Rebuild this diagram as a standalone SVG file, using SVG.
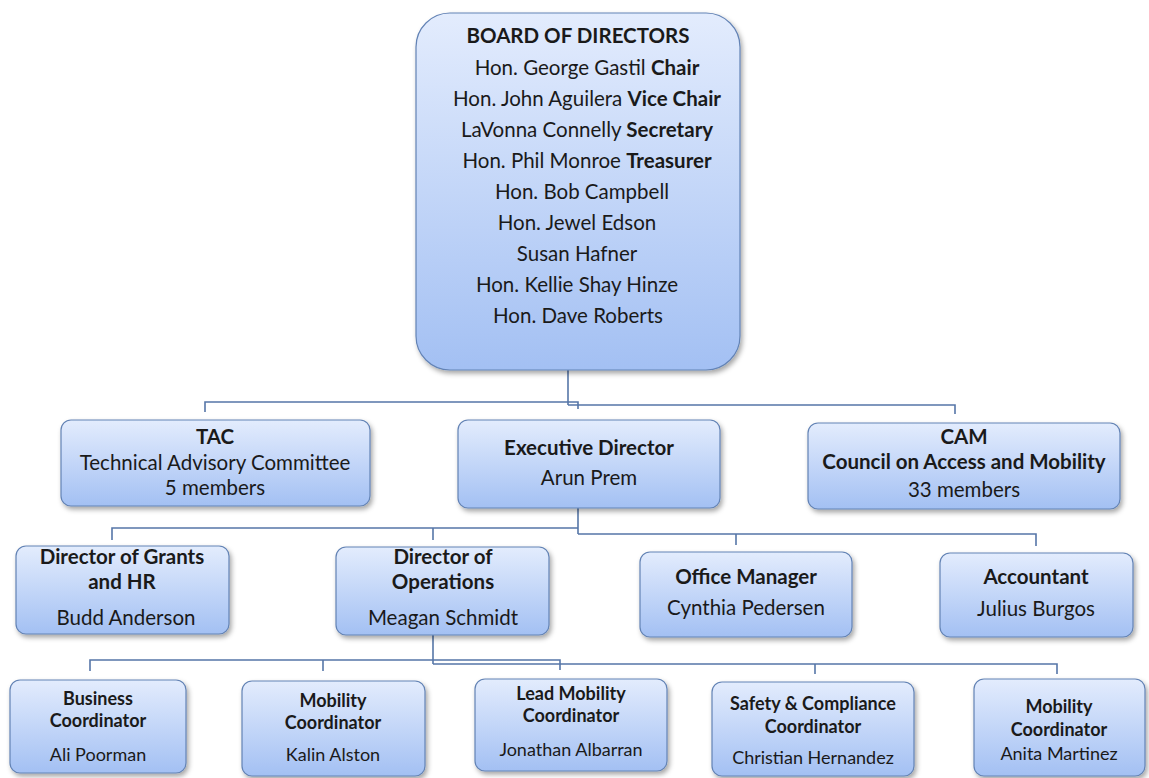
<svg xmlns="http://www.w3.org/2000/svg" width="1149" height="778" viewBox="0 0 1149 778">
<defs>
<linearGradient id="g" x1="0" y1="0" x2="0" y2="1">
<stop offset="0" stop-color="#e3ecfd"/>
<stop offset="1" stop-color="#a3c0f3"/>
</linearGradient>
<filter id="sh" x="-10%" y="-10%" width="125%" height="130%">
<feDropShadow dx="2" dy="3" stdDeviation="2.5" flood-color="#000" flood-opacity="0.35"/>
</filter>
</defs>
<style>
.box{fill:url(#g);stroke:#6383b5;stroke-width:1.2;filter:url(#sh)}
.c{fill:none;stroke:#5676a8;stroke-width:1.6}
text{font-family:Lato,"Liberation Sans",sans-serif;fill:#1a1a1a;text-anchor:middle}
.t{font-size:20.5px}
.s{font-size:18px}
.b{font-weight:bold}
</style>
<rect width="1149" height="778" fill="#fff"/>
<g id="connectors">
<path class="c" d="M568,370V405"/>
<path class="c" d="M205,412V402H578V409"/>
<path class="c" d="M568,405H955V414"/>
<path class="c" d="M578,508V534"/>
<path class="c" d="M112,540V528H578"/>
<path class="c" d="M433,528V540"/>
<path class="c" d="M578,534H1036V546"/>
<path class="c" d="M736,534V545"/>
<path class="c" d="M433,635V664"/>
<path class="c" d="M90,671V660H560V670"/>
<path class="c" d="M323,660V671"/>
<path class="c" d="M433,664H1057V674"/>
<path class="c" d="M815,664V674"/>
</g>
<g id="board">
<rect class="box" x="416" y="13" width="324" height="357" rx="34"/>
<text class="t b" x="578" y="43">BOARD OF DIRECTORS</text>
<text class="t" x="587" y="75">Hon. George Gastil <tspan class="b">Chair</tspan></text>
<text class="t" x="587" y="106">Hon. John Aguilera <tspan class="b">Vice Chair</tspan></text>
<text class="t" x="587" y="137">LaVonna Connelly <tspan class="b">Secretary</tspan></text>
<text class="t" x="587" y="168">Hon. Phil Monroe <tspan class="b">Treasurer</tspan></text>
<text class="t" x="582" y="199">Hon. Bob Campbell</text>
<text class="t" x="577" y="230">Hon. Jewel Edson</text>
<text class="t" x="577" y="261">Susan Hafner</text>
<text class="t" x="577" y="292">Hon. Kellie Shay Hinze</text>
<text class="t" x="578" y="323">Hon. Dave Roberts</text>
</g>
<g id="tac">
<rect class="box" x="61" y="420" width="309" height="86" rx="10"/>
<text class="t b" x="215" y="444">TAC</text>
<text class="t" x="215" y="470">Technical Advisory Committee</text>
<text class="t" x="215" y="495">5 members</text>
</g>
<g id="exec">
<rect class="box" x="458" y="420" width="262" height="88" rx="10"/>
<text class="t b" x="589" y="455">Executive Director</text>
<text class="t" x="589" y="485">Arun Prem</text>
</g>
<g id="cam">
<rect class="box" x="808" y="423" width="312" height="86" rx="10"/>
<text class="t b" x="964" y="444">CAM</text>
<text class="t b" x="964" y="469">Council on Access and Mobility</text>
<text class="t" x="964" y="497">33 members</text>
</g>
<g id="grants">
<rect class="box" x="16" y="546" width="213" height="88" rx="10"/>
<text class="t b" x="122" y="564">Director of Grants</text>
<text class="t b" x="122" y="589">and HR</text>
<text class="t" x="126" y="625">Budd Anderson</text>
</g>
<g id="ops">
<rect class="box" x="336" y="547" width="213" height="88" rx="10"/>
<text class="t b" x="443" y="564">Director of</text>
<text class="t b" x="443" y="589">Operations</text>
<text class="t" x="443" y="625">Meagan Schmidt</text>
</g>
<g id="office">
<rect class="box" x="640" y="552" width="212" height="85" rx="10"/>
<text class="t b" x="746" y="584">Office Manager</text>
<text class="t" x="746" y="615">Cynthia Pedersen</text>
</g>
<g id="accountant">
<rect class="box" x="940" y="553" width="193" height="84" rx="10"/>
<text class="t b" x="1036" y="584">Accountant</text>
<text class="t" x="1036" y="616">Julius Burgos</text>
</g>
<g id="business">
<rect class="box" x="10" y="680" width="176" height="93" rx="10"/>
<text class="s b" x="98" y="705">Business</text>
<text class="s b" x="98" y="727">Coordinator</text>
<text class="s" x="98" y="761">Ali Poorman</text>
</g>
<g id="mobility1">
<rect class="box" x="242" y="681" width="183" height="95" rx="10"/>
<text class="s b" x="333" y="707">Mobility</text>
<text class="s b" x="333" y="729">Coordinator</text>
<text class="s" x="333" y="761">Kalin Alston</text>
</g>
<g id="lead">
<rect class="box" x="475" y="679" width="192" height="92" rx="10"/>
<text class="s b" x="571" y="700">Lead Mobility</text>
<text class="s b" x="571" y="722">Coordinator</text>
<text class="s" x="571" y="756">Jonathan Albarran</text>
</g>
<g id="safety">
<rect class="box" x="712" y="682" width="202" height="94" rx="10"/>
<text class="s b" x="813" y="710">Safety &amp; Compliance</text>
<text class="s b" x="813" y="733">Coordinator</text>
<text class="s" x="813" y="764">Christian Hernandez</text>
</g>
<g id="mobility2">
<rect class="box" x="974" y="679" width="171" height="97" rx="10"/>
<text class="s b" x="1059" y="713">Mobility</text>
<text class="s b" x="1059" y="736">Coordinator</text>
<text class="s" x="1059" y="760">Anita Martinez</text>
</g>
</svg>
